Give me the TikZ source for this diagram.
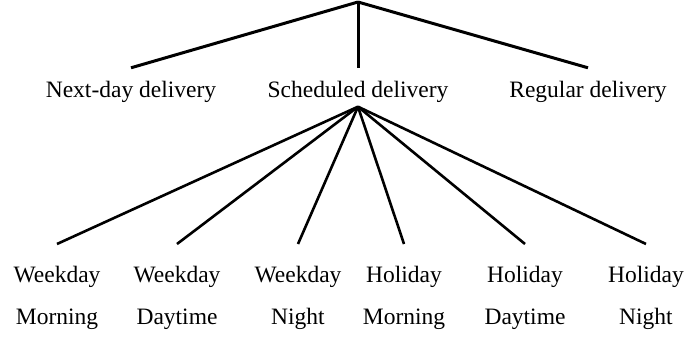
\documentclass[tikz,border=0pt]{standalone}
\usepackage{fontspec}
\setmainfont{Liberation Serif}
\usetikzlibrary{positioning}
\tikzstyle{kind} = [font=\fontsize{23.5}{28}\selectfont, anchor=base, text height=15.5pt, text depth=5pt, inner xsep=2pt, inner ysep=4.5pt]
\tikzstyle{slot} = [font=\fontsize{23.5}{42.3}\selectfont, align=center, anchor=north, inner xsep=2pt, inner ysep=22pt]
\tikzstyle{branch} = [draw, line width=3pt]
\tikzstyle{twig} = [draw, line width=2.6pt]

\begin{document}
\begin{tikzpicture}[x=1pt, y=-1pt]
    \useasboundingbox (0,0) rectangle (686,340);

    % Place nodes
    \coordinate (root) at (358,2);
    \node [kind] (next-day) at (131,97) {Next-day delivery};
    \node [kind] (scheduled) at (358,97) {Scheduled delivery};
    \node [kind] (regular) at (588,97) {Regular delivery};
    \node [slot] (wd-morning) at (57,244) {Weekday\\Morning};
    \node [slot] (wd-daytime) at (177,244) {Weekday\\Daytime};
    \node [slot] (wd-night) at (298,244) {Weekday\\Night};
    \node [slot] (hd-morning) at (404,244) {Holiday\\Morning};
    \node [slot] (hd-daytime) at (525,244) {Holiday\\Daytime};
    \node [slot] (hd-night) at (646,244) {Holiday\\Night};

    % Draw edges
    \path [branch] (root) -- ([yshift=9pt]next-day.north);
    \path [branch] (root) -- ([yshift=9pt]scheduled.north);
    \path [branch] (root) -- ([yshift=9pt]regular.north);
    \path [twig] (scheduled.south) -- (wd-morning.north);
    \path [twig] (scheduled.south) -- (wd-daytime.north);
    \path [twig] (scheduled.south) -- (wd-night.north);
    \path [twig] (scheduled.south) -- (hd-morning.north);
    \path [twig] (scheduled.south) -- (hd-daytime.north);
    \path [twig] (scheduled.south) -- (hd-night.north);
\end{tikzpicture}
\end{document}
